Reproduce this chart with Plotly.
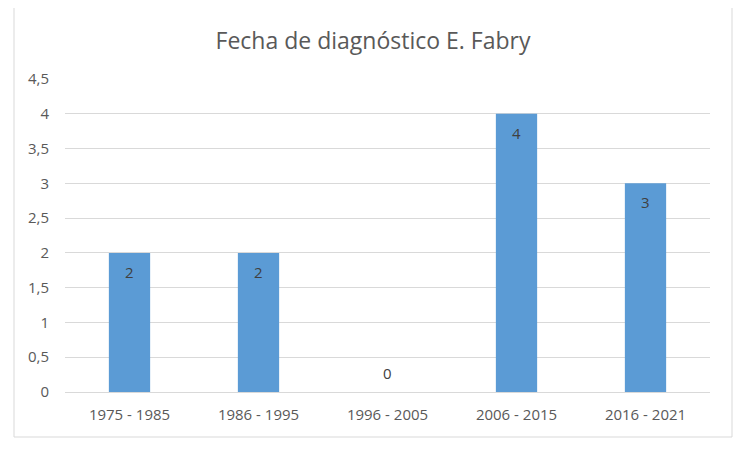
import plotly.graph_objects as go

categories = ["1975 - 1985", "1986 - 1995", "1996 - 2005", "2006 - 2015", "2016 - 2021"]
values = [2, 2, 0, 4, 3]
title = "Fecha de diagnóstico E. Fabry"

FONT = "Open Sans"
GRAY = "#595959"

# page has an 8px body margin; compensate
OFF = 8
W, H = 750 - OFF, 450 - OFF
ml, mr, mt, mb = 65 - OFF, 40, 79 - OFF, 58
pw, ph = W - ml - mr, H - mt - mb
def px(x): return (x - OFF - ml) / pw
def py(y): return (H - mb - (y - OFF)) / ph

fig = go.Figure(go.Bar(
    x=categories, y=values, marker=dict(color="#5B9BD5", line=dict(width=0)),
    width=0.32, hoverinfo="x+y",
))

annotations = []
for c, v in zip(categories, values):
    annotations.append(dict(
        x=c, y=v, xref="x", yref="y", text=str(v), showarrow=False,
        yshift=(-19 if v > 0 else 19), font=dict(family=FONT, size=15, color="#404040"),
    ))

shapes = [dict(type="rect", xref="paper", yref="paper",
               x0=px(14), x1=px(732), y0=py(437), y1=py(7),
               line=dict(color="#D9D9D9", width=1), fillcolor="rgba(0,0,0,0)", layer="below")]

fig.update_layout(
    width=W, height=H,
    margin=dict(l=ml, r=mr, t=mt, b=mb),
    paper_bgcolor="white", plot_bgcolor="white",
    separators=",.",
    showlegend=False,
    title=dict(text=title, x=(373 - OFF) / W, xanchor="center", y=1 - (41 - OFF) / H, yanchor="middle",
               font=dict(family=FONT, size=23, color=GRAY)),
    xaxis=dict(showgrid=False, showline=True, linecolor="#D9D9D9", linewidth=1,
               ticks="", tickfont=dict(family=FONT, size=15, color=GRAY),
               ticklabelstandoff=9),
    yaxis=dict(range=[0, 4.5], dtick=0.5, tick0=0, showgrid=True, gridcolor="#D9D9D9",
               gridwidth=1, zeroline=False, showline=False, ticks="",
               tickfont=dict(family=FONT, size=15, color=GRAY), ticklabelstandoff=15),
    annotations=annotations,
    shapes=shapes,
)

fig.write_html("out.html")
